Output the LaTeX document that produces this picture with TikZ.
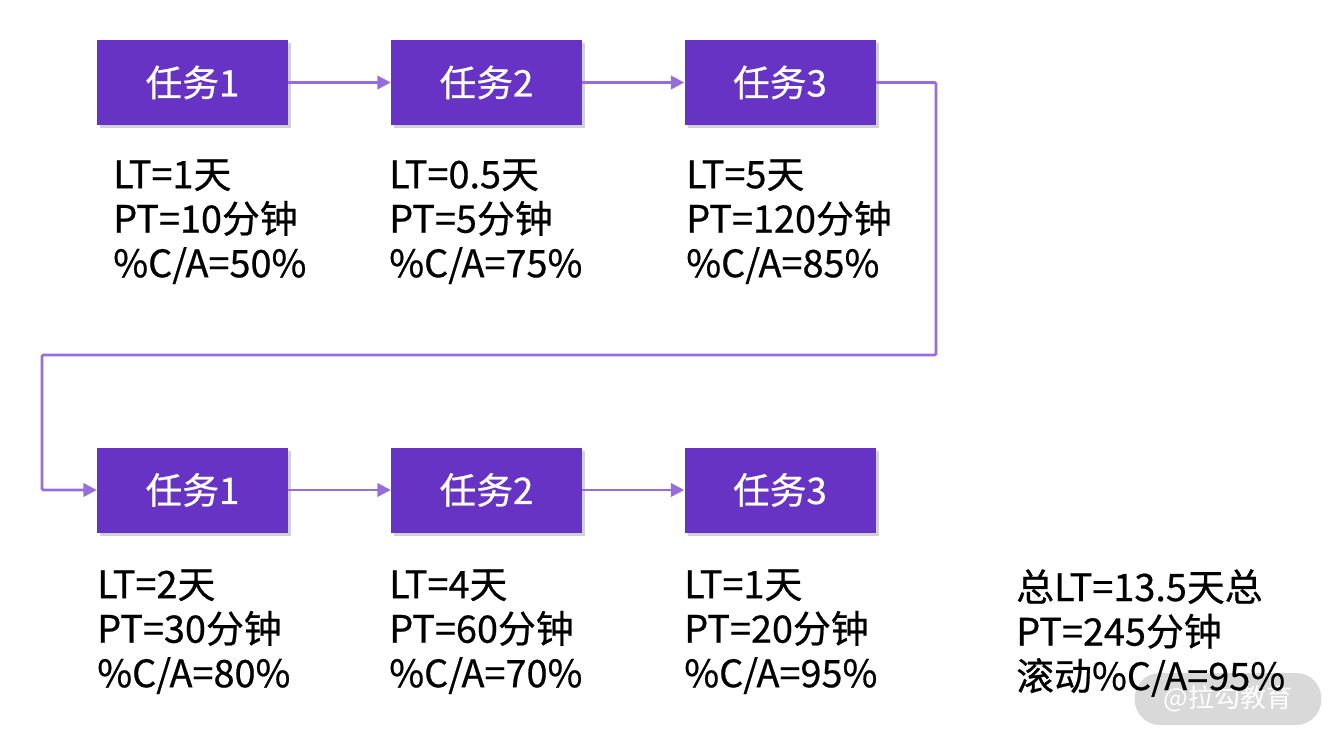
\documentclass[tikz,border=0pt]{standalone}
\usepackage{fontspec}
\setmainfont{Noto Sans CJK SC}
\newfontfamily\heavyfont{Noto Sans CJK SC}[FakeBold=0.6]
\usetikzlibrary{shadows,arrows.meta}
\definecolor{taskpurple}{RGB}{102,51,196}
\definecolor{flowpurple}{RGB}{150,110,220}
\definecolor{markgray}{RGB}{217,217,217}

\begin{document}
\begin{tikzpicture}[x=0.75pt,y=-0.75pt,
    task/.style={fill=taskpurple, text=white, minimum width=143.25pt, minimum height=63.75pt, inner sep=0pt,
        font=\heavyfont\fontsize{27.5}{30}\selectfont,
        drop shadow={shadow xshift=2.5pt, shadow yshift=-2.5pt, opacity=0.3, fill=black!60}},
    flow/.style={draw=flowpurple, line width=2pt, -{Triangle[length=10pt, width=10pt]}},
    info/.style={anchor=north west, inner sep=0pt, align=left, font=\heavyfont\fontsize{28.4}{33.4}\selectfont}]

    \useasboundingbox (0,0) rectangle (1340,743);

    % watermark
    \node[fill=markgray, text=white, rounded corners=19pt, minimum width=140pt, minimum height=39pt,
        font=\fontsize{19.5}{22}\selectfont] (mark) at (1228,699) {@拉勾教育};

    % first round
    \node[task] (t1) at (192.5,82.5) {任务1};
    \node[task] (t2) at (486.5,82.5) {任务2};
    \node[task] (t3) at (780,82.5) {任务3};
    % second round
    \node[task] (t4) at (192.5,490) {任务1};
    \node[task] (t5) at (486.5,490) {任务2};
    \node[task] (t6) at (780,490) {任务3};

    \draw[flow] (t1) -- (t2);
    \draw[flow] (t2) -- (t3);
    \coordinate (turnR) at (936,355);
    \coordinate (turnL) at (42,355);
    \draw[flow, rounded corners=1pt] (t3.east) -| (turnR) -- (turnL) |- (t4.west);
    \draw[flow] (t4) -- (t5);
    \draw[flow] (t5) -- (t6);

    \node[info] (i1) at (113,159) {LT=1天\\PT=10分钟\\\%C/A=50\%};
    \node[info] (i2) at (389,159) {LT=0.5天\\PT=5分钟\\\%C/A=75\%};
    \node[info] (i3) at (686,159) {LT=5天\\PT=120分钟\\\%C/A=85\%};
    \node[info] (i4) at (97,569) {LT=2天\\PT=30分钟\\\%C/A=80\%};
    \node[info] (i5) at (389,569) {LT=4天\\PT=60分钟\\\%C/A=70\%};
    \node[info] (i6) at (684,569) {LT=1天\\PT=20分钟\\\%C/A=95\%};
    \node[info] (total) at (1016,569) {总LT=13.5天总\\PT=245分钟\\滚动\%C/A=95\%};
\end{tikzpicture}
\end{document}
